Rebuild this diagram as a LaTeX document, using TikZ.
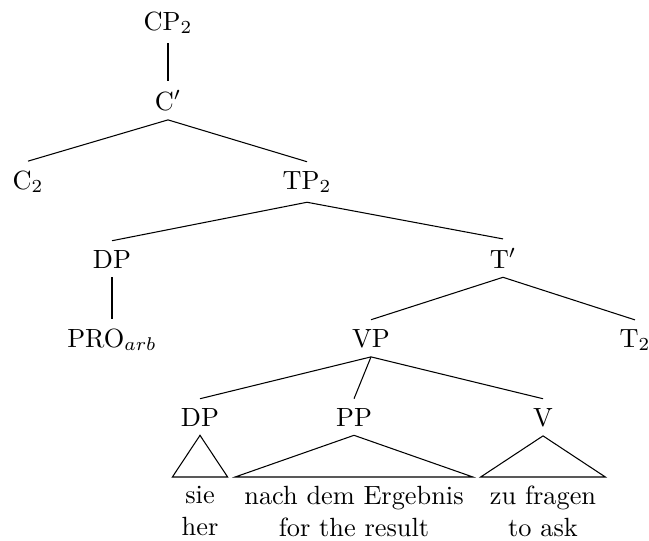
\documentclass[tikz,border=0pt]{standalone}
\begin{document}
\begin{tikzpicture}[x=0.3798pt,y=-0.3798pt,
  lbl/.style={anchor=base,inner sep=3.33pt},
  leaf/.style={anchor=north,inner sep=3.33pt,align=center},
  edge/.style={draw,line width=0.4pt}]
\useasboundingbox (0,0) rectangle (649,540);
% nodes
\node[lbl] (cp)  at (168,30)  {CP$_2$};
\node[lbl] (cb)  at (168,110) {C$'$};
\node[lbl] (c)   at (28,189)  {C$_2$};
\node[lbl] (tp)  at (307,189) {TP$_2$};
\node[lbl] (dpa) at (112,268) {DP};
\node[lbl] (tb)  at (503,268) {T$'$};
\node[lbl] (pro) at (112,347) {PRO$_{arb}$};
\node[lbl] (vp)  at (371,347) {VP};
\node[lbl] (t)   at (635,347) {T$_2$};
\node[lbl] (dpb) at (200,426) {DP};
\node[lbl] (pp)  at (354,426) {PP};
\node[lbl] (v)   at (543,426) {V};
\node[leaf] (sie)  at (200,477) {sie\\her};
\node[leaf] (nach) at (354,477) {nach dem Ergebnis\\for the result};
\node[leaf] (zu)   at (543,477) {zu fragen\\to ask};
% edges
\path[edge] (cp.south) -- (cb.north);
\path[edge] (cb.south) -- (c.north);
\path[edge] (cb.south) -- (tp.north);
\path[edge] (tp.south) -- (dpa.north);
\path[edge] (tp.south) -- (tb.north);
\path[edge] (dpa.south) -- (pro.north);
\path[edge] (tb.south) -- (vp.north);
\path[edge] (tb.south) -- (t.north);
\path[edge] (vp.south) -- (dpb.north);
\path[edge] (vp.south) -- (pp.north);
\path[edge] (vp.south) -- (v.north);
% roofs
\path[edge] (dpb.south) -- (sie.north west) -- (sie.north east) -- cycle;
\path[edge] (pp.south) -- (nach.north west) -- (nach.north east) -- cycle;
\path[edge] (v.south) -- (zu.north west) -- (zu.north east) -- cycle;
\end{tikzpicture}
\end{document}
